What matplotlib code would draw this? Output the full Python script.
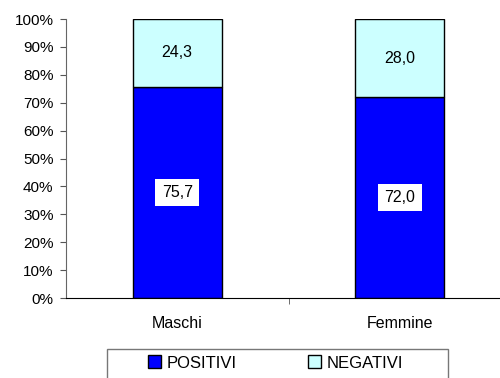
import numpy as np
import matplotlib.pyplot as plt
from matplotlib.patches import Rectangle
from matplotlib.ticker import PercentFormatter

categories = ["Maschi", "Femmine"]
positivi = [75.7, 72.0]
negativi = [24.3, 28.0]

plt.rcParams['font.family'] = ['Liberation Sans', 'DejaVu Sans']

fig = plt.figure(figsize=(5.0, 3.78), dpi=100)
ax = fig.add_axes([0.132, 0.2116, 0.89, 0.7381])

x = np.arange(len(categories))
w = 0.4
ax.bar(x, positivi, w, color="#0000FF", edgecolor="black", linewidth=1, label="POSITIVI")
ax.bar(x, negativi, w, bottom=positivi, color="#CCFFFF", edgecolor="black", linewidth=1, label="NEGATIVI")

# value labels (comma as decimal separator)
for i in range(len(categories)):
    ax.text(x[i], positivi[i] / 2, f"{positivi[i]:.1f}".replace(".", ","),
            ha="center", va="center", fontsize=11.5,
            bbox=dict(facecolor="white", edgecolor="none", boxstyle="square,pad=0.4"))
    ax.text(x[i], positivi[i] + negativi[i] / 2, f"{negativi[i]:.1f}".replace(".", ","),
            ha="center", va="center", fontsize=11.5)

ax.set_xlim(-0.5, 1.5)
ax.set_ylim(0, 100)
ax.set_yticks(np.arange(0, 101, 10))
ax.yaxis.set_major_formatter(PercentFormatter(decimals=0))
ax.set_xticks(x)
ax.set_xticklabels(categories)
ax.set_xticks([0.5], minor=True)
ax.tick_params(axis="x", which="major", length=0, pad=13, labelsize=11.5)
ax.tick_params(axis="x", which="minor", length=4, color="#555555")
ax.tick_params(axis="y", length=4, color="#555555", pad=5, labelsize=11)

for s in ["top", "right"]:
    ax.spines[s].set_visible(False)
ax.spines["left"].set_color("#666666")
ax.spines["bottom"].set_color("black")

# legend frame drawn separately, runs past the bottom edge like the reference
fig.patches.append(Rectangle((0.214, -0.05), 0.682, 0.1267, transform=fig.transFigure,
                             facecolor="white", edgecolor="#777777", linewidth=1))
leg = fig.legend(loc="center", bbox_to_anchor=(0.551, 0.0397), ncol=2, fontsize=12,
                 frameon=False, handlelength=0.8, handleheight=0.8, handletextpad=0.3,
                 columnspacing=4.3, borderaxespad=0, borderpad=0)

fig.savefig("out.png", dpi=100)
